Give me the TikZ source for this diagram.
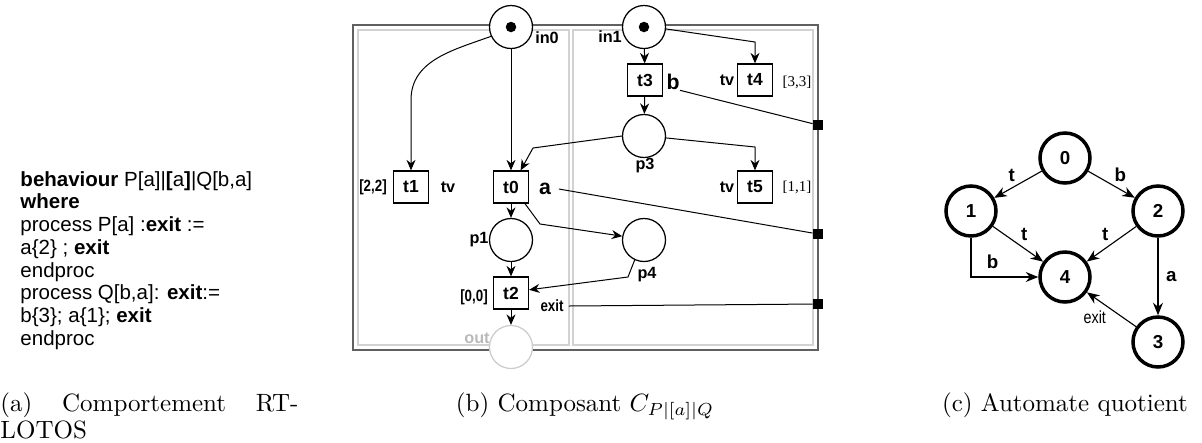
\documentclass[tikz,border=0pt]{standalone}
\usepackage{fontspec}
\usepackage{graphicx}
\usetikzlibrary{arrows.meta}
\newfontfamily\arialfont{Liberation Sans}
\newfontfamily\timesfont{Liberation Serif}
\newcommand{\narrowtxt}[1]{\scalebox{0.82}[1]{#1}}

\begin{document}
\begin{tikzpicture}[x=0.4pt, y=-0.4pt,
    place/.style={circle, draw, fill=white, line width=0.5pt, minimum size=17.2pt, inner sep=0pt},
    trans/.style={rectangle, draw, fill=white, line width=0.5pt, minimum width=14pt, minimum height=12.8pt, inner sep=0pt, font=\arialfont\bfseries\fontsize{7}{8}\selectfont},
    lab/.style={inner sep=0pt, font=\arialfont\bfseries\fontsize{6.5}{7}\selectfont},
    bigl/.style={inner sep=0pt, font=\arialfont\bfseries\fontsize{8.5}{9}\selectfont},
    seril/.style={inner sep=0pt, font=\timesfont\fontsize{6}{7}\selectfont},
    port/.style={rectangle, fill=black, minimum size=4pt, inner sep=0pt},
    arc/.style={line width=0.4pt, -{Stealth[length=4.2pt,width=3.6pt]}},
    state/.style={circle, draw, line width=1.4pt, minimum size=20pt, inner sep=0pt, font=\arialfont\bfseries\fontsize{7.5}{8}\selectfont},
    trs/.style={line width=0.45pt, -{Stealth[length=5pt,width=4pt]}},
    glab/.style={inner sep=1pt, font=\arialfont\bfseries\fontsize{7.5}{8}\selectfont}]
    \useasboundingbox (0,0) rectangle (1202,442);

    \node[anchor=west, align=left, inner sep=0pt, font=\arialfont\fontsize{8.2}{9.1}\selectfont] (code) at (20,260.5)
      {\textbf{behaviour} P[a]|\textbf{[}a\textbf{]}|Q[b,a]\\
       \textbf{where}\\
       process P[a] :\textbf{exit} :=\\
       a\{2\} ; \textbf{exit}\\
       endproc\\
       process Q[b,a]: \textbf{exit}:=\\
       b\{3\}; a\{1\}; \textbf{exit}\\
       endproc};

    \draw[gray!75!black, line width=0.6pt] (353,25) rectangle (818,350);
    \draw[gray!35, line width=0.5pt] (358,30) rectangle (569,345);
    \draw[gray!35, line width=0.5pt] (573,30) rectangle (813,345);

    \node[place] (in0) at (511,27) {};
    \node[place] (in1) at (644,27) {};
    \fill (in0) circle (2.1pt);
    \fill (in1) circle (2.1pt);
    \node[place] (p3) at (644,136) {};
    \node[place] (p1) at (511,240) {};
    \node[place] (p4) at (644,240) {};
    \node[place, draw=gray!40] (out) at (511,347) {};

    \node[trans] (t1) at (411,187) {t1};
    \node[trans] (t0) at (511,187) {t0};
    \node[trans] (t3) at (645,80) {t3};
    \node[trans] (t4) at (755,80) {t4};
    \node[trans] (t5) at (755,187) {t5};
    \node[trans] (t2) at (511,293) {t2};

    \node[lab] (lin0) at (547,38) {in0};
    \node[lab] (lin1) at (610,37) {in1};
    \node[lab] (lp3) at (645,166) {p3};
    \node[lab] (lp1) at (479,240) {p1};
    \node[lab] (lp4) at (647,275) {p4};
    \node[lab, text=gray!55] (lout) at (477,338) {out};
    \node[lab] (tv1) at (448,187) {tv};
    \node[lab] (tv4) at (727,80) {tv};
    \node[lab] (tv5) at (727,187) {tv};
    \node[lab] (d1) at (373,187) {\narrowtxt{[2,2]}};
    \node[lab] (d2) at (474,297) {\narrowtxt{[0,0]}};
    \node[seril] (d4) at (797,82) {[3,3]};
    \node[seril] (d5) at (797,187) {[1,1]};
    \node[bigl] (la) at (545,189) {a};
    \node[bigl] (lb) at (673,82) {b};
    \node[lab] (lexit) at (552,306) {\narrowtxt{exit}};

    \node[port] (qb) at (818,125) {};
    \node[port] (qa) at (818,234) {};
    \node[port] (qe) at (818,304) {};

    \draw[arc] (in0.205) to[out=200,in=90] (411,100) -- (t1);
    \draw[arc] (in0) -- (t0);
    \draw[arc] (p3.180) -- (533,148) -- (t0.60);
    \draw[arc] (t0) -- (p1);
    \draw[arc] (t0.-50) -- (540,224) -- (p4.170);
    \draw[arc] (p1) -- (t2);
    \draw[arc] (p4.245) -- (628,277) -- (t2.10);
    \draw[arc] (t2) -- (out);
    \draw[arc] (in1) -- (t3);
    \draw[arc] (t3) -- (p3);
    \draw[arc] (in1.-5) -- (755,42) -- (t4);
    \draw[arc] (p3.-5) -- (755,147) -- (t5);
    \draw[line width=0.4pt] (lb.south east) -- (qb);
    \draw[line width=0.4pt] (la.east) ++(3pt,0) -- (qa);
    \draw[line width=0.4pt] (lexit.east) ++(2pt,0) -- (qe);

    \node[state] (s0) at (1065,158) {0};
    \node[state] (s1) at (971,211) {1};
    \node[state] (s2) at (1158,211) {2};
    \node[state] (s4) at (1065,277) {4};
    \node[state] (s3) at (1158,342) {3};
    \draw[trs] (s0) -- node[glab, above left] (g01) {t} (s1);
    \draw[trs] (s0) -- node[glab, above right] (g02) {b} (s2);
    \draw[trs] (s1) -- node[glab, above right] (g14) {t} (s4);
    \draw[trs] (s2) -- node[glab, above left] (g24) {t} (s4);
    \draw[trs] (s1) |- node[glab, pos=0.66, above=2pt] (g14b) {b} (s4);
    \draw[trs] (s2) -- node[glab, right=2pt] (g23) {a} (s3);
    \draw[trs] (s3) -- node[pos=0.55, below left=0pt, inner sep=1pt, font=\arialfont\fontsize{7}{8}\selectfont] (g34) {\narrowtxt{exit}} (s4);

    \node[anchor=north west, align=left, inner sep=0pt] (capa) at (0,392)
      {\makebox[119.2pt][s]{(a) Comportement RT-}\\[-1.2pt]LOTOS};
    \node[anchor=base, inner sep=0pt] (capb) at (585,411) {(b) Composant $C_{P|[a]|Q}$};
    \node[anchor=base, inner sep=0pt] (capc) at (1065,411) {(c) Automate quotient};
\end{tikzpicture}
\end{document}
